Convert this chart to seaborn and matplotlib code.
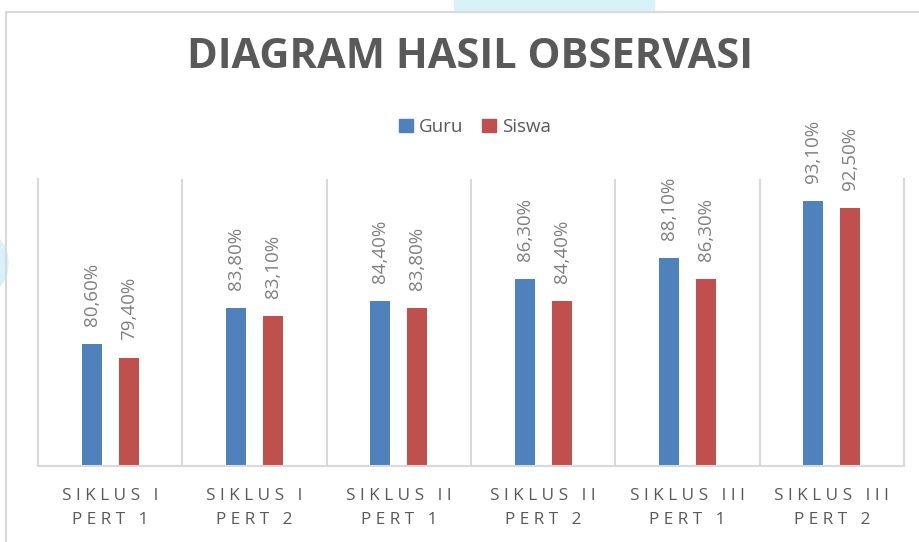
import pandas as pd
import numpy as np
import seaborn as sns
import matplotlib.pyplot as plt
from matplotlib.patches import Rectangle, Ellipse, Patch

categories = ["SIKLUS I\nPERT 1", "SIKLUS I\nPERT 2", "SIKLUS II\nPERT 1",
              "SIKLUS II\nPERT 2", "SIKLUS III\nPERT 1", "SIKLUS III\nPERT 2"]
guru = [80.6, 83.8, 84.4, 86.3, 88.1, 93.1]
siswa = [79.4, 83.1, 83.8, 84.4, 86.3, 92.5]
series = ["Guru", "Siswa"]
colors = ["#4f81bd", "#c0504d"]

df = pd.DataFrame({
    "kategori": categories * 2,
    "nilai": guru + siswa,
    "seri": [series[0]] * len(guru) + [series[1]] * len(siswa),
})

sns.set_style("white")
plt.rcParams['font.family'] = ['Open Sans', 'DejaVu Sans']


def spaced(s, sep=" "):
    # excel-style letter spacing
    return "\n".join(sep.join(line) for line in s.split("\n"))


fig = plt.figure(figsize=(9.2, 5.42), dpi=100)
ax = fig.add_axes([38 / 920, 1 - 466 / 542, (904 - 38) / 920, (466 - 179) / 542])

sns.barplot(data=df, x="kategori", y="nilai", hue="seri", palette=colors,
            saturation=1, width=0.512, gap=0.46, linewidth=0, ax=ax, legend=False)

for cont, vals in zip(ax.containers, [guru, siswa]):
    labels = [f"{v:.2f}%".replace(".", ",") for v in vals]
    ax.bar_label(cont, labels=labels, rotation=90, padding=13,
                 fontsize=13.5, color="#7f7f7f")

ax.set_ylim(70, 95)
ax.set_xlim(-0.5, len(categories) - 0.5)
ax.set_yticks([])
ax.set_xlabel("")
ax.set_ylabel("")
ax.set_xticks(range(len(categories)))
ax.set_xticklabels([spaced(c) for c in categories], fontsize=12.3,
                   color="#595959", linespacing=1.65)
ax.tick_params(axis="x", length=0, pad=16)

ax.set_xticks(np.arange(0.5, len(categories) - 1, 1), minor=True)
ax.grid(axis="x", which="minor", color="#d9d9d9", linewidth=1.5)
ax.tick_params(axis="x", which="minor", length=0)
for side in ["left", "right", "bottom"]:
    ax.spines[side].set_color("#d9d9d9")
    ax.spines[side].set_linewidth(1.5)
ax.spines["top"].set_visible(False)

# legend
handles = [Patch(color=c, label=s) for c, s in zip(colors, series)]
fig.legend(handles=handles, loc="center", bbox_to_anchor=(475 / 920, 1 - 127 / 542),
           ncol=2, frameon=False, fontsize=13.5, handlelength=0.75, handleheight=0.75,
           handletextpad=0.3, columnspacing=1.0, labelcolor="#595959")

fig.text(470 / 920, 1 - 58 / 542, "DIAGRAM HASIL OBSERVASI",
         ha="center", va="center", fontsize=30, fontweight="bold", color="#595959")

# background bits + chart frame
fig.patches.append(Rectangle((454 / 920, 1 - 12 / 542), 200 / 920, 12 / 542,
                             transform=fig.transFigure, color="#d7f3f9", zorder=0))
fig.patches.append(Ellipse((-22 / 920, 1 - 263 / 542), 60 / 920, 68 / 542,
                           transform=fig.transFigure, color="#d7f3f9", zorder=0))
fig.patches.append(Rectangle((6 / 920, -0.05), 1.0, 1 - 12 / 542 + 0.05,
                             transform=fig.transFigure, facecolor="none",
                             edgecolor="#d9d9d9", linewidth=1.5, zorder=1))

fig.savefig("out.png", dpi=100)
